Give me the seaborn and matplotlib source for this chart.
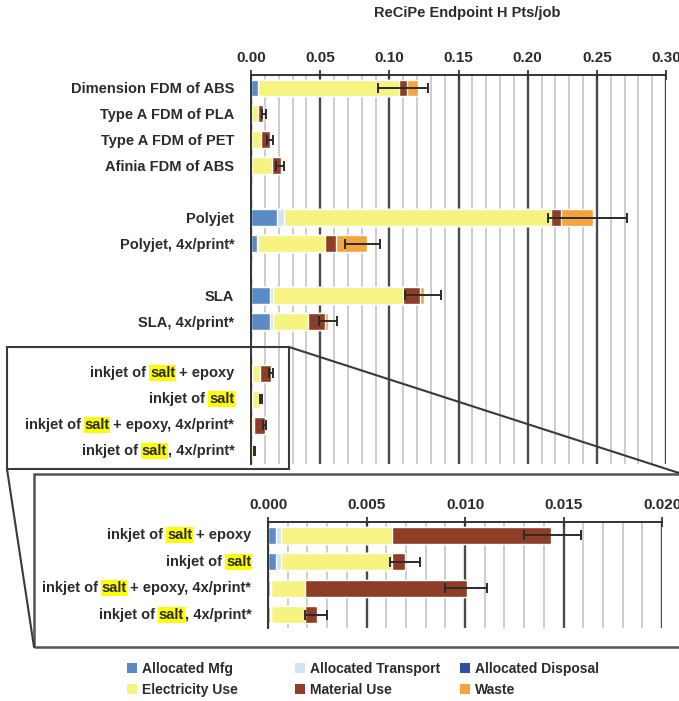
import matplotlib
matplotlib.use('Agg')
import matplotlib.pyplot as plt
import seaborn as sns
import numpy as np
import pandas as pd
from matplotlib.patches import Patch, Rectangle
from matplotlib.lines import Line2D

sns.set_style('white')
plt.rcParams['font.family'] = ['Liberation Sans', 'DejaVu Sans']
plt.rcParams['font.weight'] = 'bold'

# data
rows = ['Dimension FDM of ABS', 'Type A FDM of PLA', 'Type A FDM of PET', 'Afinia FDM of ABS', '',
        'Polyjet', 'Polyjet, 4x/print*', ' ', 'SLA', 'SLA, 4x/print*', '  ',
        'inkjet of salt + epoxy', 'inkjet of salt', 'inkjet of salt + epoxy, 4x/print*',
        'inkjet of salt, 4x/print*']
mfg = [0.005, 0, 0, 0, 0, 0.019, 0.004, 0, 0.014, 0.014, 0, 0.00043, 0.00043, 0.00012, 0.00012]
transport = [0, 0, 0, 0, 0, 0.005, 0.0008, 0, 0.002, 0.002, 0, 0.00025, 0.00025, 0.00003, 0.00003]
disposal = [0, 0, 0, 0, 0, 0, 0, 0, 0, 0, 0, 0, 0, 0, 0]
electricity = [0.102, 0.005, 0.007, 0.015, 0, 0.193, 0.049, 0, 0.094, 0.025, 0,
               0.0056, 0.0056, 0.00175, 0.00175]
material = [0.006, 0.0037, 0.0067, 0.0067, 0, 0.007, 0.0076, 0, 0.012, 0.0126, 0,
            0.0081, 0.00065, 0.0082, 0.0006]
waste = [0.008, 0, 0, 0, 0, 0.023, 0.0224, 0, 0.003, 0.0024, 0, 0, 0, 0, 0]
err_low = [0.092, 0.0078, 0.0116, 0.018, np.nan, 0.2145, 0.068, np.nan, 0.111, 0.049, np.nan,
           0.013, 0.0062, 0.009, 0.0019]
err_high = [0.128, 0.0108, 0.016, 0.024, np.nan, 0.272, 0.093, np.nan, 0.137, 0.062, np.nan,
            0.0159, 0.0077, 0.0111, 0.003]

components = ['Allocated Mfg', 'Allocated Transport', 'Allocated Disposal',
              'Electricity Use', 'Material Use', 'Waste']
colors = ['#5b8bc5', '#cfe3f3', '#2f4da6', '#f6f381', '#8e3d26', '#f4a43c']

main_ticks = [0.00, 0.05, 0.10, 0.15, 0.20, 0.25, 0.30]
main_labels = ['0.00', '0.05', '0.10', '0.15', '0.20', '0.25', '0.30']
inset_ticks = [0.000, 0.005, 0.010, 0.015, 0.020]
inset_labels = ['0.000', '0.005', '0.010', '0.015', '0.020']

# labels with highlighted "salt"
salt_labels = {
    'inkjet of salt + epoxy': [('inkjet of', False), ('salt', True), ('+ epoxy', False)],
    'inkjet of salt': [('inkjet of', False), ('salt', True)],
    'inkjet of salt + epoxy, 4x/print*': [('inkjet of', False), ('salt', True), ('+ epoxy, 4x/print*', False)],
    'inkjet of salt, 4x/print*': [('inkjet of', False), ('salt', True), (', 4x/print*', False)],
}

df = pd.DataFrame({'row': rows, 'Allocated Mfg': mfg, 'Allocated Transport': transport,
                   'Allocated Disposal': disposal, 'Electricity Use': electricity,
                   'Material Use': material, 'Waste': waste})
cum = df[components].cumsum(axis=1)
cum['row'] = df['row']
cum['lo'] = err_low
cum['hi'] = err_high

FS = 10.5
INK = '#2b2b2b'


def draw_label(ax, y, pieces, fs):
    t = None
    rev = list(reversed(pieces))
    for i, (txt, hl) in enumerate(rev):
        bbox = dict(boxstyle='square,pad=0.06', fc='#ffff00', ec='none') if hl else None
        if t is None:
            t = ax.annotate(txt, xy=(0, y), xycoords=('axes fraction', 'data'),
                            xytext=(-12, 0), textcoords='offset points', ha='right', va='center',
                            fontsize=fs, color=INK, bbox=bbox)
        else:
            gap = 0.4 if rev[i - 1][0].startswith(',') else 2.8
            t = ax.annotate(txt, xy=(0, 0.5), xycoords=t, xytext=(-gap, 0),
                            textcoords='offset points', ha='right', va='center',
                            fontsize=fs, color=INK, bbox=bbox)


def draw_panel(ax, sub, xmax, ticks, ticklabels, minor_step):
    order = list(sub['row'])
    for comp, c in reversed(list(zip(components, colors))):
        sns.barplot(data=sub, x=comp, y='row', order=order, color=c, saturation=1,
                    width=0.65, errorbar=None, orient='h', ax=ax)
    pos = np.arange(len(sub))
    ok = sub['lo'].notna().values
    mid = (sub['lo'].values + sub['hi'].values) / 2
    half = (sub['hi'].values - sub['lo'].values) / 2
    ax.errorbar(mid[ok], pos[ok], xerr=half[ok], fmt='none', ecolor=INK,
                elinewidth=1.4, capsize=3.5, capthick=1.4, zorder=5)
    ax.set_xlim(0, xmax)
    ax.set_ylim(len(sub) - 0.5, -0.5)
    ax.set_xlabel('')
    ax.set_ylabel('')
    ax.xaxis.tick_top()
    ax.set_xticks(ticks)
    ax.set_xticklabels(ticklabels, fontsize=11, color=INK, fontweight='bold')
    ax.set_xticks(np.arange(0, xmax + 1e-9, minor_step), minor=True)
    ax.grid(axis='x', which='minor', color='#c9c9c9', lw=1.3)
    ax.grid(axis='x', which='major', color='#4a4a4a', lw=1.7)
    ax.set_axisbelow(True)
    ax.tick_params(axis='x', which='major', direction='inout', length=7, width=1.3,
                   color='#333333', pad=4)
    ax.tick_params(axis='x', which='minor', length=0)
    ax.set_yticks(pos)
    ax.set_yticklabels(['' if r in salt_labels else r for r in order], fontsize=FS, color=INK,
                       fontweight='bold')
    ax.set_yticks(np.arange(len(sub) + 1) - 0.5, minor=True)
    ax.tick_params(axis='y', which='major', length=0, pad=12)
    ax.tick_params(axis='y', which='minor', direction='out', length=5, width=1.2, color='#333333')
    for s in ['right', 'bottom']:
        ax.spines[s].set_visible(False)
    for s in ['left', 'top']:
        ax.spines[s].set_color('#333333')
        ax.spines[s].set_linewidth(1.4)
    for p, r in zip(pos, order):
        if r in salt_labels:
            draw_label(ax, p, salt_labels[r], FS)


W, H = 679, 701
fig = plt.figure(figsize=(W / 100, H / 100), dpi=100)

ax_main = fig.add_axes([251 / W, 1 - 464 / H, (666 - 251) / W, (464 - 75) / H])
draw_panel(ax_main, cum, 0.30, main_ticks, main_labels, 0.01)

ax_in = fig.add_axes([268 / W, 1 - 628 / H, (662 - 268) / W, (628 - 522) / H])
draw_panel(ax_in, cum.iloc[11:].reset_index(drop=True), 0.020, inset_ticks, inset_labels, 0.001)

fig.text(467 / W, 1 - 13 / H, 'ReCiPe Endpoint H Pts/job', ha='center', va='center',
         fontsize=10.5, color=INK, fontweight='bold')

# callout box and zoom lines
lc = '#3a3a3a'
fig.add_artist(Rectangle((7 / W, 1 - 469 / H), (289 - 7) / W, (469 - 347) / H,
                         transform=fig.transFigure, fill=False, ec=lc, lw=1.5))
fig.add_artist(Rectangle((34 / W, 1 - 647 / H), (690 - 34) / W, (647 - 474) / H,
                         transform=fig.transFigure, fill=False, ec='#555555', lw=1.8))
fig.add_artist(Line2D([289 / W, 679 / W], [1 - 347 / H, 1 - 473 / H],
                      transform=fig.transFigure, color=lc, lw=1.5))
fig.add_artist(Line2D([7 / W, 34 / W], [1 - 469 / H, 1 - 647 / H],
                      transform=fig.transFigure, color=lc, lw=1.5))

# legend: three columns of two entries
handles = [Patch(facecolor=c, edgecolor='none') for c in colors]
col_x = [127, 295, 460]
for j in range(3):
    fig.legend([handles[j], handles[j + 3]], [components[j], components[j + 3]],
               loc='upper left', bbox_to_anchor=(col_x[j] / W, 1 - 662 / H), ncol=1,
               frameon=False, fontsize=10, handlelength=0.7, handleheight=0.7,
               handletextpad=0.35, labelspacing=0.5, borderpad=0, borderaxespad=0,
               labelcolor=INK)

fig.savefig('out.png', dpi=100)
